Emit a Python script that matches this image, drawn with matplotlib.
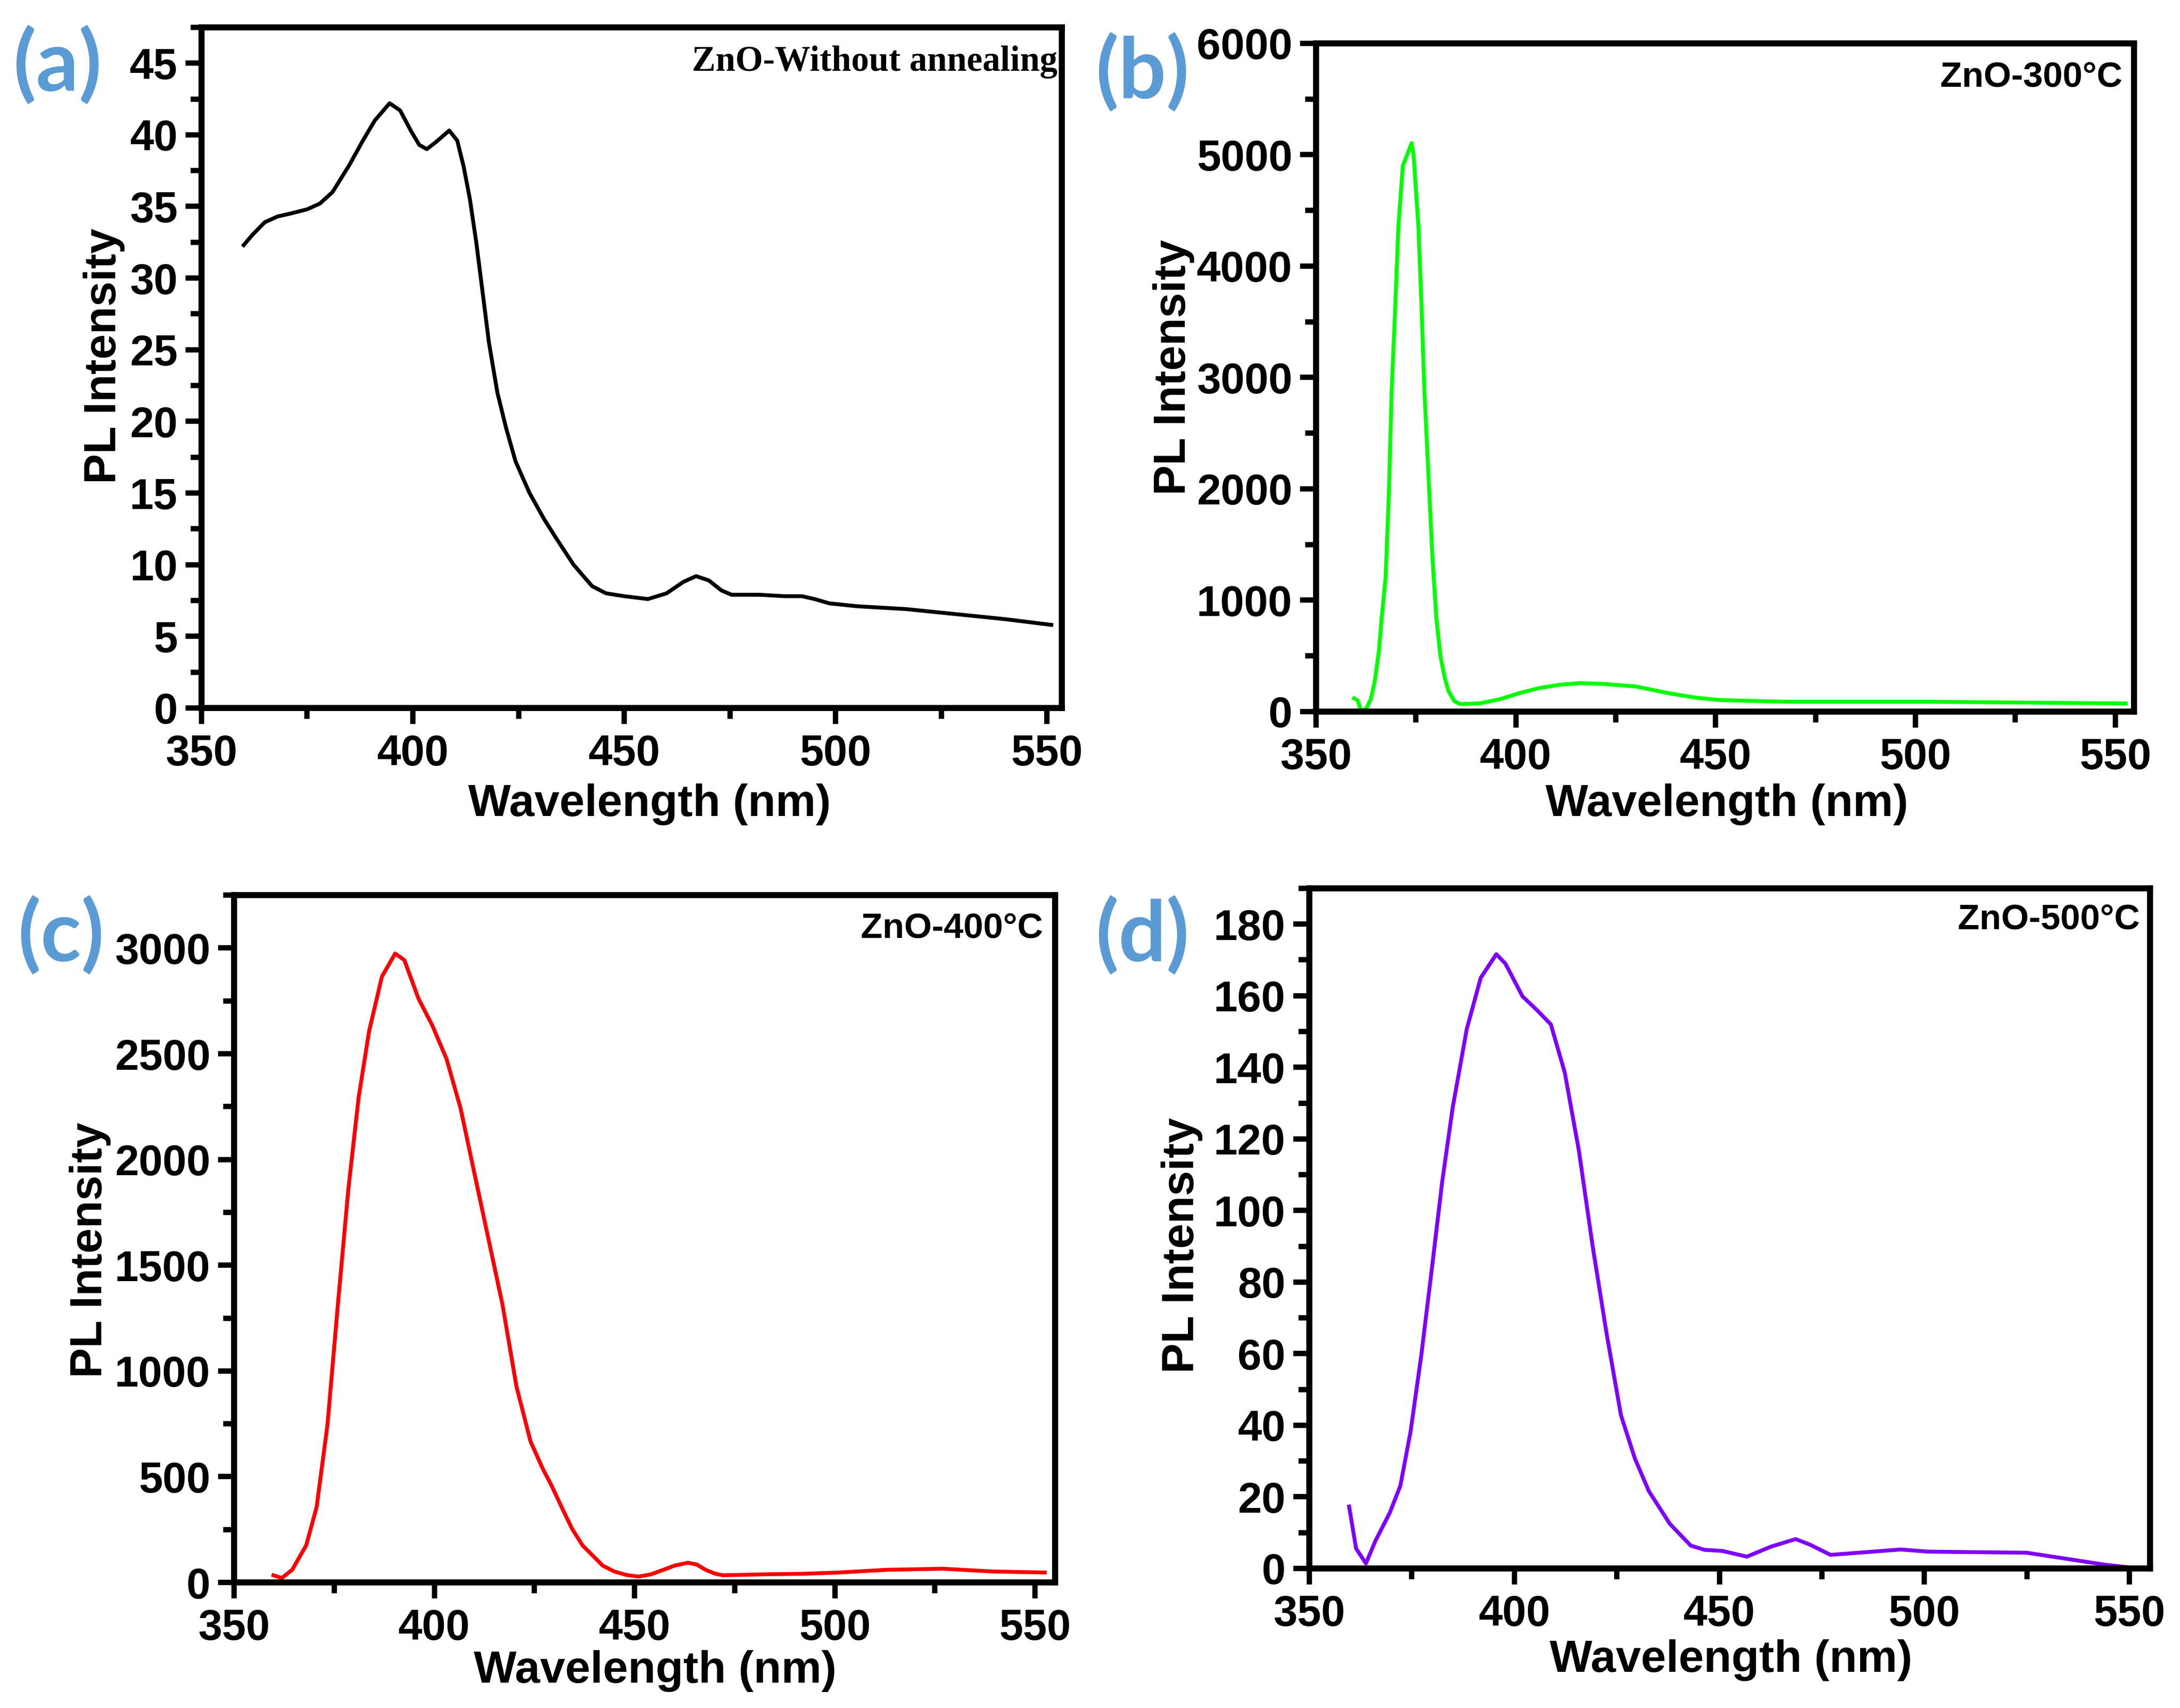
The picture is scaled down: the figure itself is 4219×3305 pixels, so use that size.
import matplotlib.pyplot as plt
from matplotlib.ticker import MultipleLocator

plt.rcParams.update({
    'font.family': ['Liberation Sans', 'DejaVu Sans'],
    'font.weight': 'bold',
    'axes.linewidth': 2.8,
})

# (a) ZnO without annealing
wl_a = [360, 362, 365, 368, 371, 375, 378, 381, 385, 388, 391, 394.5, 397, 399.5, 401.5,
        403.3, 405.5, 408.6, 410.5, 412, 413.5, 415, 416.5, 418, 420, 422, 424.3, 427.6,
        431, 434, 438, 442.4, 445.7, 450, 455.6, 460, 464, 467, 470, 473, 475.4, 482, 488,
        492, 495, 498.5, 505, 516.7, 530, 540, 551]
pl_a = [32.3, 33.0, 33.9, 34.3, 34.5, 34.8, 35.2, 36.0, 37.9, 39.5, 41.0, 42.2, 41.7, 40.3,
        39.3, 39.0, 39.5, 40.3, 39.6, 37.8, 35.5, 32.5, 29.0, 25.5, 22.0, 19.6, 17.2, 15.0,
        13.2, 11.8, 10.0, 8.5, 8.0, 7.8, 7.6, 8.0, 8.8, 9.2, 8.9, 8.2, 7.9, 7.9, 7.8, 7.8,
        7.6, 7.3, 7.1, 6.9, 6.5, 6.2, 5.8]

# (b) ZnO 300 C
wl_b = [359.5, 360.4, 361.2, 362.4, 363.7, 364.7, 365.7, 366.4, 367.4, 368.2, 368.9, 369.7,
        370.6, 371.7, 373.9, 374.4, 375.6, 376.4, 377.1, 378.1, 379.1, 380.1, 381.1, 382.1,
        383.1, 384.6, 386.1, 391, 396, 401, 406, 411, 416, 422, 430, 438.6, 445, 451, 468,
        503, 552.6]
pl_b = [119, 100, 11, 19, 111, 278, 538, 835, 1206, 1949, 2877, 3545, 4360, 4900, 5104, 4993,
        4360, 3620, 2877, 2134, 1392, 835, 501, 316, 186, 93, 67, 74, 111, 167, 212, 241, 255,
        248, 225, 162, 125, 103, 88, 88, 73]

# (c) ZnO 400 C
wl_c = [359.8, 361.9, 364.5, 368, 370.6, 373.3, 375.9, 378.5, 381.1, 383.7, 386.9, 390.2,
        392.5, 396, 399.5, 403, 406.5, 410, 413.5, 417, 420.5, 424, 427, 429.2, 431.8, 434.4,
        437, 439.7, 442, 444.9, 448, 451, 454, 457.2, 460, 463.3, 465.5, 467.7, 470, 472,
        477, 483.4, 492.1, 500.9, 513, 527, 539.3, 552.4]
pl_c = [34, 21, 60, 176, 357, 745, 1314, 1857, 2296, 2607, 2865, 2974, 2943, 2762, 2633,
        2477, 2245, 1934, 1624, 1314, 926, 667, 540, 460, 355, 253, 175, 124, 80, 52, 35,
        28, 38, 60, 80, 93, 85, 60, 42, 34, 36, 39, 41, 47, 60, 65, 52, 47]

# (d) ZnO 500 C
wl_d = [359.7, 361.4, 363.8, 366.2, 369.6, 372.2, 374.7, 377.3, 379.9, 382.4, 385, 388.4,
        391.8, 395.6, 397.8, 402, 405.5, 408.9, 412.3, 415.7, 419.1, 422.5, 426, 429.4,
        432.8, 437.9, 443, 446.4, 450.7, 456.7, 462.6, 468.6, 472, 477.1, 484, 494.2, 501,
        524.9, 535.2, 543.7, 552.2]
pl_d = [17.3, 5.6, 1.4, 7.9, 15.5, 23.1, 38.3, 59.5, 83.9, 108, 129, 150.7, 165, 171.6, 169,
        159.8, 156, 152, 138.5, 117, 90, 65.6, 42.8, 30.7, 21.6, 12.5, 6.4, 5.2, 4.9, 3.3,
        6.1, 8.2, 6.7, 3.8, 4.4, 5.3, 4.7, 4.4, 2.6, 1.1, 0]

fig = plt.figure(figsize=(4219 / 300, 3305 / 300), dpi=300)

panels = [
    # rect, x, y, color, xmax, ymax, major, minor, note, note_font, note_pos,
    # letter, letter_pos, ylabel x/y, xlabel y/x
    ([0.0924, 0.5855, 0.3947, 0.3985], wl_a, pl_a, 'black', 553.5, 47.5, 5, 2.5,
     'ZnO-Without annealing', 'Liberation Serif', (0.9946, 0.936), '(a)', (0.006, 0.962),
     -0.0889, 0.517, -0.111, 0.521),
    ([0.6037, 0.5834, 0.3752, 0.3912], wl_b, pl_b, '#00FF00', 554.7, 6000, 1000, 500,
     'ZnO-300°C', 'Liberation Sans', (0.9855, 0.935), '(b)', (0.5025, 0.958),
     -0.1485, 0.515, -0.1075, 0.502),
    ([0.1074, 0.0735, 0.3766, 0.4024], wl_c, pl_c, '#FF0000', 555, 3250, 500, 250,
     'ZnO-400°C', 'Liberation Sans', (0.9855, 0.938), '(c)', (0.008, 0.4526),
     -0.1498, 0.484, -0.0985, 0.513),
    ([0.6006, 0.0817, 0.3856, 0.3982], wl_d, pl_d, '#7F00FF', 555, 190, 20, 10,
     'ZnO-500°C', 'Liberation Sans', (0.988, 0.94), '(d)', (0.5025, 0.4526),
     -0.1266, 0.475, -0.104, 0.5015),
]

for (rect, x, y, color, xmax, ymax, major, minor, note, note_font, note_pos,
     letter, letter_pos, ylx, yly, xly, xlx) in panels:
    ax = fig.add_axes(rect)
    ax.plot(x, y, color=color, linewidth=1.8)
    ax.set_xlim(350, xmax)
    ax.set_ylim(0, ymax)
    ax.xaxis.set_major_locator(MultipleLocator(50))
    ax.xaxis.set_minor_locator(MultipleLocator(25))
    ax.yaxis.set_major_locator(MultipleLocator(major))
    ax.yaxis.set_minor_locator(MultipleLocator(minor))
    ax.tick_params(which='major', direction='out', length=7.5, width=2.5, labelsize=20)
    ax.tick_params(which='minor', direction='out', length=5, width=2.5)
    ax.tick_params(axis='x', which='major', pad=4.5)
    ax.tick_params(axis='y', which='major', pad=3.5)
    for lab in ax.get_xticklabels() + ax.get_yticklabels():
        lab.set_fontweight('bold')

    ax.set_xlabel('Wavelength (nm)', fontsize=21, fontweight='bold', va='top')
    ax.xaxis.set_label_coords(xlx, xly)
    ax.set_ylabel('PL Intensity', fontsize=21, fontweight='bold')
    ax.yaxis.set_label_coords(ylx, yly)

    ax.text(note_pos[0], note_pos[1], note, transform=ax.transAxes, ha='right',
            va='baseline', fontsize=16.5, fontweight='bold', family=[note_font, 'DejaVu Sans'])

    fig.text(letter_pos[0], letter_pos[1], letter, ha='left', va='center', fontsize=39,
             fontweight='bold', color='#5B9BD5', family=['Lato', 'Open Sans', 'DejaVu Sans'])

fig.savefig('out.png', dpi=300, facecolor='white')
